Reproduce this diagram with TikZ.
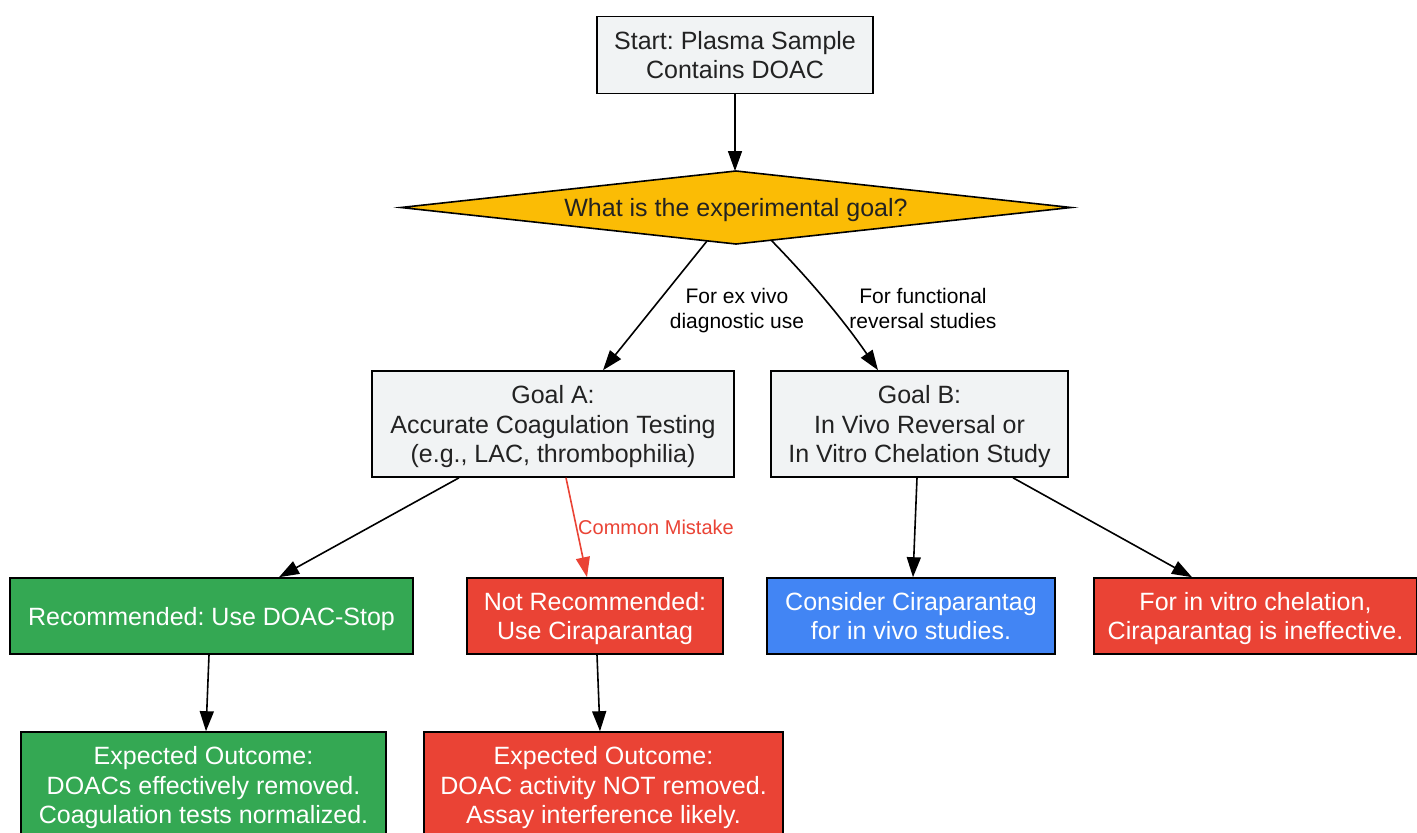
\documentclass[tikz,border=0pt]{standalone}
\usepackage{fontspec}
\setmainfont{Liberation Sans}
\usetikzlibrary{shapes.geometric,arrows.meta}
\definecolor{gbox}{HTML}{F1F3F4}
\definecolor{gyellow}{HTML}{FBBC05}
\definecolor{ggreen}{HTML}{34A853}
\definecolor{gred}{HTML}{EA4335}
\definecolor{gblue}{HTML}{4285F4}
\definecolor{darktext}{HTML}{222222}
\frenchspacing
\begin{document}
\begin{tikzpicture}[x=1pt,y=-1pt,
  box/.style={draw=black, line width=1.6pt, inner sep=0pt, align=center, text depth=0pt,
    font=\fontsize{25}{29.7}\selectfont},
  greybox/.style={box, fill=gbox, text=darktext},
  greenbox/.style={box, fill=ggreen, text=white},
  redbox/.style={box, fill=gred, text=white},
  bluebox/.style={box, fill=gblue, text=white},
  arr/.style={line width=1.6pt, draw=black, -{Triangle[length=20pt,width=14pt]}},
  redarr/.style={line width=1.6pt, draw=gred, -{Triangle[length=20pt,width=14pt]}},
  lab/.style={font=\fontsize{21}{25}\selectfont, align=center, text=black, inner sep=0pt, text depth=0pt}]
\useasboundingbox (0,0) rectangle (1417,833);
\fill[white] (0,0) rectangle (1417,833);

\node[greybox, minimum width=276pt, minimum height=77pt] (start) at (735,55) {Start: Plasma Sample\\Contains DOAC};
\node[diamond, aspect=9, draw=black, line width=1.6pt, fill=gyellow, text=darktext, inner sep=0pt, outer sep=0pt,
  text depth=0pt, minimum width=670pt, minimum height=73pt, font=\fontsize{25}{29.7}\selectfont] (dia) at (736,207.5) {What is the experimental goal?};
\node[greybox, minimum width=362pt, minimum height=106pt] (goalA) at (553,424) {Goal A:\\Accurate Coagulation Testing\\(e.g., LAC, thrombophilia)};
\node[greybox, minimum width=297pt, minimum height=106pt] (goalB) at (919.5,424) {Goal B:\\In Vivo Reversal or\\In Vitro Chelation Study};
\node[greenbox, minimum width=403pt, minimum height=76pt] (rec) at (211.5,616) {Recommended: Use DOAC-Stop};
\node[redbox, minimum width=256pt, minimum height=76pt] (notrec) at (595,616) {Not Recommended:\\Use Ciraparantag};
\node[bluebox, minimum width=288pt, minimum height=76pt] (consider) at (911,616) {Consider Ciraparantag\\for in vivo studies.};
\node[redbox, minimum width=323pt, minimum height=76pt] (vitro) at (1255.5,616) {For in vitro chelation,\\Ciraparantag is ineffective.};
\node[greenbox, minimum width=365pt, minimum height=106pt] (expG) at (203.5,785) {Expected Outcome:\\DOACs effectively removed.\\Coagulation tests normalized.};
\node[redbox, minimum width=359pt, minimum height=106pt] (expR) at (603.5,785) {Expected Outcome:\\DOAC activity NOT removed.\\Assay interference likely.};

\draw[arr] (start.south) -- (start.south |- dia.north);
\draw[arr] ([shift={(-29,-3)}]dia.south) -- ([xshift=50pt]goalA.north);
\draw[arr] ([shift={(35,-4)}]dia.south) .. controls (805,275) and (840,315) .. ([xshift=-41.5pt]goalB.north);
\draw[arr] ([xshift=-94pt]goalA.south) -- ([xshift=67.5pt]rec.north);
\draw[redarr] ([xshift=13pt]goalA.south) -- ([xshift=-8pt]notrec.north);
\draw[arr] ([xshift=-2.5pt]rec.south) -- ([xshift=2.5pt]expG.north);
\draw[arr] ([xshift=2pt]notrec.south) -- ([xshift=-3.5pt]expR.north);
\draw[arr] ([xshift=-2.5pt]goalB.south) -- ([xshift=2pt]consider.north);
\draw[arr] ([xshift=93.5pt]goalB.south) -- ([xshift=-63.5pt]vitro.north);

\node[lab] (l1) at (737,308) {For ex vivo\\diagnostic use};
\node[lab] (l2) at (923,308) {For functional\\reversal studies};
\node[lab, text=gred, anchor=west, font=\fontsize{20}{24}\selectfont] (l3) at (578,527) {Common Mistake};
\end{tikzpicture}
\end{document}
